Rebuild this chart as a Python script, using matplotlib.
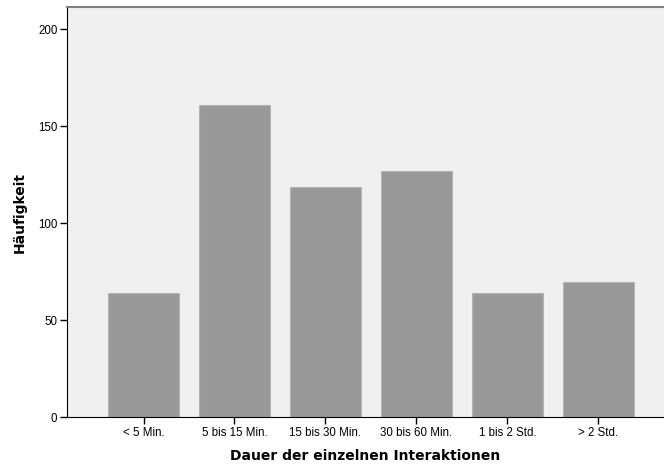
import matplotlib
matplotlib.use("Agg")
import matplotlib.pyplot as plt

categories = ["< 5 Min.", "5 bis 15 Min.", "15 bis 30 Min.", "30 bis 60 Min.", "1 bis 2 Std.", "> 2 Std."]
counts = [64, 161, 119, 127, 64, 70]
y_ticks = [0, 50, 100, 150, 200]

plt.rcParams['font.family'] = ['Liberation Sans', 'DejaVu Sans']

fig = plt.figure(figsize=(6.64, 4.67), dpi=100)
ax = fig.add_axes([0.101, 0.106, 0.899, 0.879])
ax.set_facecolor("#f0f0f0")

x = list(range(len(categories)))
ax.bar(x, counts, width=0.77, color="#999999", edgecolor="#b4b4b4", linewidth=0.8, zorder=2)

ax.set_xlim(-0.84, 5.72)
ax.set_ylim(0, 211.5)
ax.set_xticks(x)
ax.set_xticklabels(categories, fontsize=8.3)
ax.set_yticks(y_ticks)
ax.set_yticklabels([str(t) for t in y_ticks], fontsize=8.3)
ax.tick_params(axis="both", direction="out", length=5, width=1, color="black", pad=2)

ax.spines["left"].set_color("black")
ax.spines["bottom"].set_color("black")
ax.spines["top"].set_color("#808080")
ax.spines["top"].set_linewidth(1.5)
ax.spines["right"].set_visible(False)

ax.set_xlabel("Dauer der einzelnen Interaktionen", fontsize=10, fontweight="bold",
              family="DejaVu Sans", labelpad=7)
ax.set_ylabel("Häufigkeit", fontsize=10, fontweight="bold",
              family="DejaVu Sans", labelpad=8)

fig.savefig("out.png", dpi=100)
